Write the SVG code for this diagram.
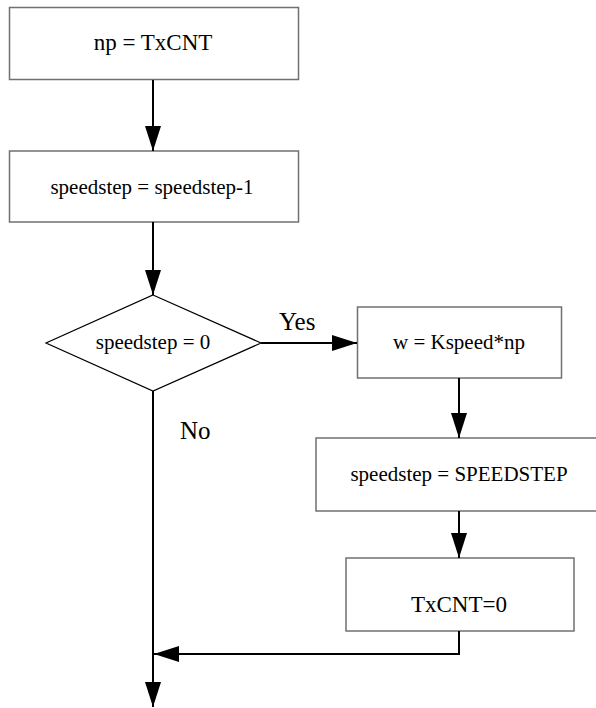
<svg xmlns="http://www.w3.org/2000/svg" width="596" height="708" viewBox="0 0 596 708">
<style>
.box{fill:#fff;stroke:#707070;stroke-width:1.5}
.dia{fill:#fff;stroke:#000;stroke-width:1.2}
text{font-family:'Liberation Serif','Times New Roman',Times,'DejaVu Serif',serif;fill:#000}
.t{font-size:21px;text-anchor:middle}
.big{font-size:23px}
.lbl{font-size:25px}
.c{fill:none;stroke:#000;stroke-width:2}
</style>
<defs>
<marker id="ah" markerWidth="25" markerHeight="16" refX="25" refY="8" orient="auto" markerUnits="userSpaceOnUse">
<path d="M0,0 L25,8 L0,16 Z" fill="#000"/>
</marker>
</defs>
<g id="n1"><rect class="box" x="9.5" y="7.5" width="289" height="72"/><text class="t big" x="153" y="50" font-family="Liberation Serif, serif">np = TxCNT</text></g>
<g id="n2"><rect class="box" x="9.5" y="151" width="289" height="71"/><text class="t" x="152" y="194" font-family="Liberation Serif, serif">speedstep = speedstep-1</text></g>
<g id="n3"><polygon class="dia" points="153,295 261,343 153,391 46,343"/><text class="t" x="153" y="349" font-family="Liberation Serif, serif">speedstep = 0</text></g>
<g id="n4"><rect class="box" x="357.5" y="307" width="204" height="71"/><text class="t" x="459" y="349" font-family="Liberation Serif, serif">w = Kspeed*np</text></g>
<g id="n5"><rect class="box" x="316" y="438" width="300" height="73"/><text class="t" x="459" y="481" font-family="Liberation Serif, serif">speedstep = SPEEDSTEP</text></g>
<g id="n6"><rect class="box" x="346" y="558" width="228" height="73"/><text class="t big" x="459" y="612" font-family="Liberation Serif, serif">TxCNT=0</text></g>
<g id="connectors">
<line class="c" x1="153" y1="80" x2="153" y2="151" marker-end="url(#ah)"/>
<line class="c" x1="153" y1="222" x2="153" y2="295" marker-end="url(#ah)"/>
<line class="c" x1="261" y1="343" x2="357" y2="343" marker-end="url(#ah)"/>
<line class="c" x1="459" y1="378" x2="459" y2="438" marker-end="url(#ah)"/>
<line class="c" x1="459" y1="511" x2="459" y2="558" marker-end="url(#ah)"/>
<polyline class="c" points="459,631 459,654 154,654" marker-end="url(#ah)"/>
<line class="c" x1="153" y1="391" x2="153" y2="707" marker-end="url(#ah)"/>
<text class="lbl" x="279" y="330" font-family="Liberation Serif, serif">Yes</text>
<text class="lbl" x="180" y="439" font-family="Liberation Serif, serif">No</text>
</g>
</svg>
